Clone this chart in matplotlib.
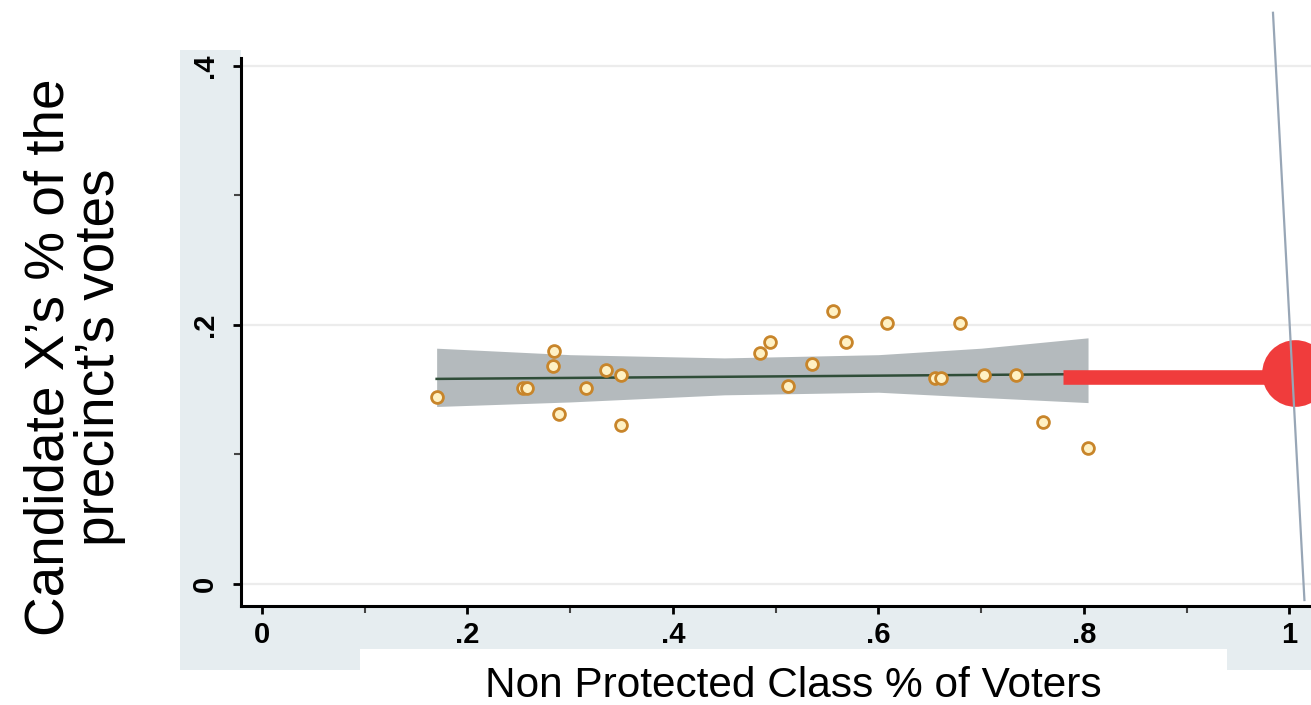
import matplotlib
matplotlib.use("Agg")
import matplotlib.pyplot as plt
from matplotlib.patches import Rectangle

# scatter points
share_x = [0.170, 0.254, 0.258, 0.283, 0.284, 0.289, 0.315, 0.335, 0.349, 0.349,
           0.485, 0.494, 0.512, 0.535, 0.556, 0.568, 0.608, 0.655, 0.661, 0.679,
           0.703, 0.734, 0.760, 0.804]
vote_y = [0.144, 0.151, 0.151, 0.168, 0.180, 0.131, 0.151, 0.165, 0.161, 0.123,
          0.178, 0.187, 0.153, 0.170, 0.211, 0.187, 0.2015, 0.159, 0.159, 0.2015,
          0.161, 0.161, 0.125, 0.105]

# fitted line and its confidence band
fit_x = [0.170, 0.804]
fit_y = [0.1583, 0.1620]
band_x = [0.170, 0.30, 0.45, 0.60, 0.70, 0.804]
band_lo = [0.137, 0.1405, 0.146, 0.148, 0.144, 0.140]
band_hi = [0.182, 0.177, 0.1745, 0.177, 0.182, 0.190]

# red annotation (bar ending in a big dot) and slanted marker line
red_x = [0.78, 1.0]
red_y = [0.160, 0.160]
dot_x = [1.005]
dot_y = [0.163]
slant_x = [0.984, 1.0146]
slant_y = [0.4409, -0.0124]

xticks = [0, 0.2, 0.4, 0.6, 0.8, 1.0]
xtick_labels = ["0", ".2", ".4", ".6", ".8", "1"]
yticks = [0, 0.2, 0.4]
ytick_labels = ["0", ".2", ".4"]

W, H = 1311, 705
fig = plt.figure(figsize=(W / 100, H / 100), dpi=100)
fig.patch.set_facecolor("white")


def px_rect(x0, y0, x1, y1, color):
    # rectangle from pixel coords (top-left origin)
    r = Rectangle((x0 / W, 1 - y1 / H), (x1 - x0) / W, (y1 - y0) / H,
                  transform=fig.transFigure, facecolor=color, edgecolor="none", zorder=-2)
    fig.add_artist(r)


region = "#e6edf0"
px_rect(180, 50, 241, 670, region)
px_rect(180, 606, 1311, 670, region)
px_rect(360, 649, 1227, 705, "white")

ax = fig.add_axes([241 / W, (H - 606) / H, (W - 241) / W, (606 - 58) / H])
ax.set_xlim(-0.0204, 1.021)
ax.set_ylim(-0.017, 0.406)
ax.set_facecolor("white")

for s in ["top", "right"]:
    ax.spines[s].set_visible(False)
for s in ["left", "bottom"]:
    ax.spines[s].set_linewidth(2.2)
    ax.spines[s].set_color("black")

for yv in yticks:
    ax.axhline(yv, color="#ececec", lw=1.6, zorder=0)

ax.fill_between(band_x, band_lo, band_hi, color="#b0b7ba", alpha=0.95, lw=0, zorder=1)
ax.plot(fit_x, fit_y, color="#2f4d38", lw=1.8, zorder=2)
ax.plot(share_x, vote_y, "o", ms=8.5, mfc="#fff1c4", mec="#c8852a", mew=2.0, zorder=3)

ax.plot(red_x, red_y, color="#f03c3c", lw=10.5, solid_capstyle="butt", zorder=4, clip_on=False)
ax.plot(dot_x, dot_y, "o", ms=48, color="#f03c3c", mec="none", zorder=4, clip_on=False)
ax.plot(slant_x, slant_y, color="#98a6b6", lw=1.6, zorder=5, clip_on=False)

tick_font = ["Liberation Sans Narrow", "Liberation Sans", "DejaVu Sans"]
ax.set_xticks(xticks)
ax.set_xticklabels(xtick_labels, fontsize=21, fontweight="bold", family=tick_font)
ax.set_xticks([0.1, 0.3, 0.5, 0.7, 0.9], minor=True)
ax.set_yticks(yticks)
ax.set_yticklabels(ytick_labels, fontsize=21, fontweight="bold", family=tick_font,
                   rotation=90, va="center")
ax.set_yticks([0.1, 0.3], minor=True)
ax.tick_params(which="major", length=6, width=2, direction="out", pad=5)
ax.tick_params(axis="y", which="major", pad=10)
ax.tick_params(which="minor", length=5, width=1.5, color="#444444", direction="out")

fig.text(793 / W, 1 - 686 / H, "Non Protected Class % of Voters", fontsize=30.5,
         family=["Liberation Sans", "DejaVu Sans"], ha="center", va="center")
fig.text(75 / W, 1 - 357 / H, "Candidate X\u2019s % of the\nprecinct\u2019s votes", fontsize=39.5,
         family=["Liberation Sans", "DejaVu Sans"], rotation=90, ha="center", va="center",
         linespacing=0.95)

fig.savefig("out.png", dpi=100)
